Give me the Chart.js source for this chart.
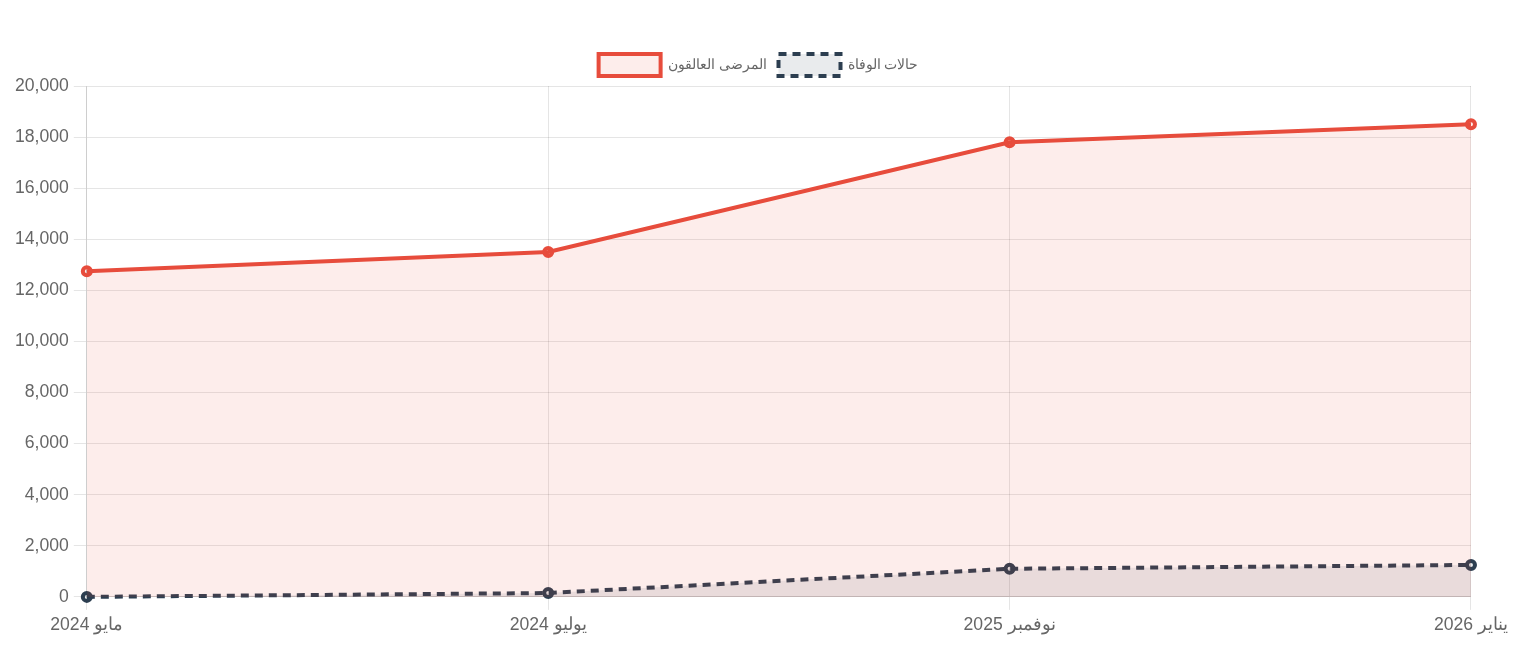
<!DOCTYPE html>
<html lang="ar">
<head>
<meta charset="utf-8">
<script src="https://cdn.jsdelivr.net/npm/chart.js@4.4.1/dist/chart.umd.min.js"></script>
<style>
  html, body { margin: 0; padding: 0; background: #fff; }
  #wrap { width: 1513px; height: 653px; }
</style>
</head>
<body>
<div id="wrap"><canvas id="chart"></canvas></div>
<script>
// Data
var months = ['مايو 2024', 'يوليو 2024', 'نوفمبر 2025', 'يناير 2026'];
var stranded = [12750, 13500, 17800, 18500];
var deaths = [0, 150, 1100, 1250];

var ctx = document.getElementById('chart').getContext('2d');
Chart.defaults.font.size = 17.6;
Chart.defaults.color = '#666';

var chart = new Chart(ctx, {
    type: 'line',
    data: {
        labels: months,
        datasets: [
            {
                label: 'المرضى العالقون',
                data: stranded,
                borderColor: '#e74c3c',
                backgroundColor: 'rgba(231, 76, 60, 0.1)',
                borderWidth: 4,
                pointRadius: 4,
                pointBorderWidth: 4,
                fill: true
            },
            {
                label: 'حالات الوفاة',
                data: deaths,
                borderColor: '#2c3e50',
                backgroundColor: 'rgba(44, 62, 80, 0.1)',
                borderWidth: 4,
                borderDash: [8, 6],
                pointRadius: 4,
                pointBorderWidth: 4,
                fill: true
            }
        ]
    },
    options: {
        responsive: true,
        maintainAspectRatio: false,
        animation: false,
        layout: {
            padding: { top: 42, left: 10, right: 6, bottom: 12 }
        },
        scales: {
            x: {
                grid: { tickLength: 13 },
                ticks: { padding: 5 }
            },
            y: {
                beginAtZero: true,
                max: 20000,
                grid: { tickLength: 13 },
                ticks: { stepSize: 2000, padding: 5 }
            }
        },
        plugins: {
            legend: {
                position: 'top',
                labels: {
                    boxWidth: 62,
                    boxHeight: 22,
                    padding: 12,
                    font: { size: 14 }
                }
            }
        }
    }
});
</script>
</body>
</html>
